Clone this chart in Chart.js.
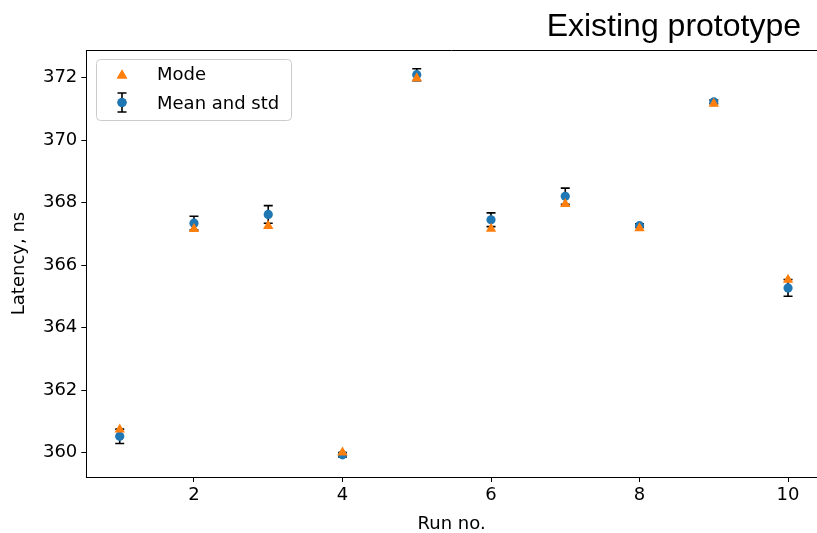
<!DOCTYPE html>
<html>
<head>
<meta charset="utf-8">
<script src="https://cdn.jsdelivr.net/npm/chart.js@4.4.0/dist/chart.umd.min.js"></script>
<style>
  html, body { margin: 0; padding: 0; overflow: hidden; background: #fff; }
  canvas { display: block; }
</style>
</head>
<body>
<canvas id="latencyChart" width="817" height="533"></canvas>
<script>
// ─── DATA ───
const runs = [1, 2, 3, 4, 5, 6, 7, 8, 9, 10];
const modeVals = [360.74, 367.15, 367.25, 360.0, 371.98, 367.16, 367.95, 367.18, 371.16, 365.53];
const meanVals = [360.52, 367.34, 367.62, 359.93, 372.09, 367.45, 368.2, 367.26, 371.22, 365.27];
const stdVals = [0.23, 0.22, 0.28, 0.07, 0.19, 0.22, 0.26, 0.06, 0.06, 0.27];
const xTicks = [2, 4, 6, 8, 10];
const yTicks = [360, 362, 364, 366, 368, 370, 372];

const ORANGE = '#ff7f0e';
const BLUE = '#1f77b4';
const FONT = { family: 'DejaVu Sans', size: 18 };

// ─── ERROR BARS, FRAME, TITLE, LEGEND ───
function drawErrorBar(ctx, x, yTop, yBot) {
    ctx.beginPath();
    ctx.moveTo(x, yTop);
    ctx.lineTo(x, yBot);
    ctx.moveTo(x - 4.5, yTop);
    ctx.lineTo(x + 4.5, yTop);
    ctx.moveTo(x - 4.5, yBot);
    ctx.lineTo(x + 4.5, yBot);
    ctx.stroke();
}

const extrasPlugin = {
    id: 'extras',
    beforeDatasetsDraw(chart) {
        // error bars sit underneath both marker sets
        const { ctx, scales: { x, y } } = chart;
        ctx.save();
        ctx.strokeStyle = '#000';
        ctx.lineWidth = 1.6;
        runs.forEach((r, i) => {
            const px = x.getPixelForValue(r);
            drawErrorBar(ctx, px,
                y.getPixelForValue(meanVals[i] + stdVals[i]),
                y.getPixelForValue(meanVals[i] - stdVals[i]));
        });
        ctx.restore();
    },
    afterDraw(chart) {
        const { ctx, chartArea: a } = chart;
        ctx.save();
        // top frame line (right spine falls outside the picture)
        ctx.strokeStyle = '#000';
        ctx.lineWidth = 1;
        ctx.beginPath();
        ctx.moveTo(a.left, a.top + 0.5);
        ctx.lineTo(a.right, a.top + 0.5);
        ctx.stroke();

        // title
        ctx.fillStyle = '#000';
        ctx.font = '32px "Liberation Sans", Arial, sans-serif';
        ctx.textAlign = 'right';
        ctx.textBaseline = 'alphabetic';
        ctx.fillText('Existing prototype', 801, 36);

        // legend box
        const bx = 96.5, by = 59.5, bw = 195, bh = 61, rr = 4;
        ctx.beginPath();
        ctx.moveTo(bx + rr, by);
        ctx.arcTo(bx + bw, by, bx + bw, by + bh, rr);
        ctx.arcTo(bx + bw, by + bh, bx, by + bh, rr);
        ctx.arcTo(bx, by + bh, bx, by, rr);
        ctx.arcTo(bx, by, bx + bw, by, rr);
        ctx.closePath();
        ctx.fillStyle = 'rgba(255,255,255,0.8)';
        ctx.fill();
        ctx.strokeStyle = '#cccccc';
        ctx.stroke();

        const ds = chart.data.datasets;
        ctx.fillStyle = ORANGE;
        Chart.helpers.drawPoint(ctx, { pointStyle: 'triangle', radius: 6, borderWidth: 0, rotation: 0 }, 122, 75.5);
        ctx.fill();

        ctx.strokeStyle = '#000';
        ctx.lineWidth = 1.6;
        drawErrorBar(ctx, 122, 93, 112);
        ctx.fillStyle = BLUE;
        Chart.helpers.drawPoint(ctx, { pointStyle: 'circle', radius: 4.6, borderWidth: 0, rotation: 0 }, 122, 102.5);
        ctx.fill();

        ctx.fillStyle = '#000';
        ctx.font = '18px "DejaVu Sans"';
        ctx.textAlign = 'left';
        ctx.textBaseline = 'middle';
        ctx.fillText(ds[0].label, 157, 75);
        ctx.fillText(ds[1].label, 157, 104);
        ctx.restore();
    }
};

// ─── CHART ───
const ctx = document.getElementById('latencyChart').getContext('2d');
const latencyChart = new Chart(ctx, {
    type: 'scatter',
    data: {
        datasets: [
            {
                label: 'Mode',
                data: runs.map((r, i) => ({ x: r, y: modeVals[i] })),
                pointStyle: 'triangle',
                pointRadius: 6,
                backgroundColor: ORANGE,
                borderWidth: 0
            },
            {
                label: 'Mean and std',
                data: runs.map((r, i) => ({ x: r, y: meanVals[i] })),
                pointStyle: 'circle',
                pointRadius: 4.6,
                backgroundColor: BLUE,
                borderWidth: 0
            }
        ]
    },
    options: {
        responsive: false,
        animation: false,
        events: [],
        layout: { autoPadding: false, padding: { top: 50, left: 0, right: 0, bottom: 0 } },
        plugins: {
            legend: { display: false },
            tooltip: { enabled: false }
        },
        scales: {
            x: {
                type: 'linear',
                min: 0.55,
                max: 10.39,
                afterBuildTicks: s => { s.ticks = xTicks.map(v => ({ value: v })); },
                afterFit: s => { s.height = 56; },
                grid: { drawOnChartArea: false, tickLength: 5, color: '#000', lineWidth: 1 },
                border: { color: '#000', width: 1 },
                ticks: { color: '#000', font: FONT, padding: 3, maxRotation: 0 },
                title: { display: true, text: 'Run no.', color: '#000', font: { family: 'DejaVu Sans', size: 18, lineHeight: 1.0 }, padding: 0 }
            },
            y: {
                min: 359.22,
                max: 372.88,
                afterBuildTicks: s => { s.ticks = yTicks.map(v => ({ value: v })); },
                afterFit: s => { s.width = 86.3; },
                grid: { drawOnChartArea: false, tickLength: 5, color: '#000', lineWidth: 1 },
                border: { color: '#000', width: 1 },
                ticks: { color: '#000', font: FONT, padding: 4 },
                title: { display: true, text: 'Latency, ns', color: '#000', font: FONT, padding: { top: 9, bottom: 0 } }
            }
        }
    },
    plugins: [extrasPlugin]
});
</script>
</body>
</html>
